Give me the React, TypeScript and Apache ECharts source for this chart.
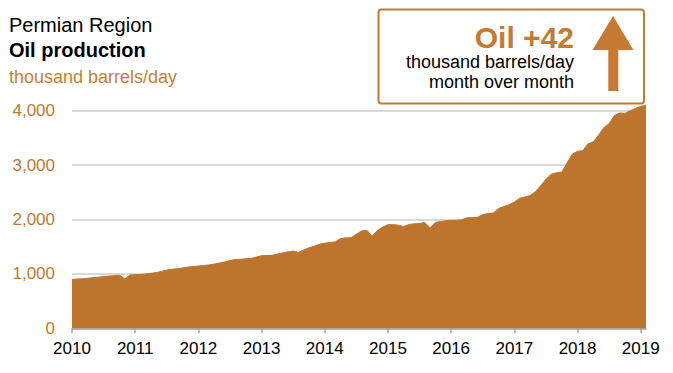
import React, { useEffect, useRef } from "react";
import * as echarts from "echarts";

// Permian Region oil production, thousand barrels/day, monthly (Jan..Dec)
const prod2010 = [900, 905, 910, 920, 930, 940, 950, 960, 968, 975, 910, 978];
const prod2011 = [985, 990, 1000, 1010, 1025, 1045, 1070, 1085, 1095, 1110, 1125, 1135];
const prod2012 = [1145, 1155, 1165, 1180, 1200, 1220, 1245, 1265, 1270, 1278, 1285, 1310];
const prod2013 = [1335, 1338, 1342, 1365, 1385, 1405, 1420, 1395, 1440, 1480, 1510, 1545];
const prod2014 = [1565, 1578, 1590, 1650, 1662, 1665, 1730, 1790, 1800, 1695, 1800, 1860];
const prod2015 = [1905, 1905, 1895, 1870, 1910, 1920, 1925, 1945, 1845, 1945, 1965, 1975];
const prod2016 = [1985, 1985, 1995, 2030, 2035, 2040, 2090, 2110, 2120, 2200, 2240, 2270];
const prod2017 = [2320, 2390, 2415, 2440, 2510, 2620, 2740, 2830, 2860, 2870, 3040, 3200];
const prod2018 = [3255, 3265, 3390, 3430, 3550, 3690, 3760, 3910, 3960, 3950, 4000, 4040];
const prod2019 = [4080, 4100];

const years = ["2010", "2011", "2012", "2013", "2014", "2015", "2016", "2017", "2018", "2019"];
const yTicks = [0, 1000, 2000, 3000, 4000];

const titleLines = ["Permian Region", "Oil production", "thousand barrels/day"];
const changeLabel = "Oil +42";
const changeUnitLines = ["thousand barrels/day", "month over month"];

const values = [
  ...prod2010, ...prod2011, ...prod2012, ...prod2013, ...prod2014,
  ...prod2015, ...prod2016, ...prod2017, ...prod2018, ...prod2019,
];

const categories: string[] = [];
for (let i = 0; i < values.length; i++) {
  const y = 2010 + Math.floor(i / 12);
  const m = (i % 12) + 1;
  categories.push(`${y}-${m < 10 ? "0" + m : m}`);
}

const AREA = "#BD742C";
const ORANGE = "#C47A33";
const FONT = "'Liberation Sans', Arial, sans-serif";

export default function App() {
  const ref = useRef<HTMLDivElement>(null);
  useEffect(() => {
    document.body.style.margin = "0";
    if (!ref.current) return;
    const chart = echarts.init(ref.current, null, { renderer: "svg" });
    chart.setOption({
      animation: false,
      backgroundColor: "#ffffff",
      textStyle: { fontFamily: FONT },
      grid: { left: 72, right: 27, top: 110.7, bottom: 44.7, containLabel: false },
      xAxis: {
        type: "category",
        data: categories,
        boundaryGap: false,
        axisLine: { show: true, lineStyle: { color: "#a6a6a6", width: 1.5 } },
        axisTick: {
          show: true,
          length: 5,
          interval: (idx: number) => idx % 12 === 0,
          lineStyle: { color: "#a6a6a6", width: 1.5 },
        },
        axisLabel: {
          interval: (idx: number) => idx % 12 === 0,
          formatter: (v: string) => {
            const y = v.slice(0, 4);
            return years.includes(y) ? y : "";
          },
          color: "#000000",
          fontSize: 17,
          fontFamily: FONT,
          margin: 12,
        },
        splitLine: { show: false },
      },
      yAxis: {
        type: "value",
        min: yTicks[0],
        max: yTicks[yTicks.length - 1],
        interval: 1000,
        axisLine: { show: false },
        axisTick: { show: false },
        axisLabel: {
          color: "#C0792F",
          fontSize: 17,
          fontFamily: FONT,
          margin: 17,
          formatter: (v: number) => v.toLocaleString("en-US"),
        },
        splitLine: { show: true, lineStyle: { color: "#cccccc", width: 1.5 } },
      },
      series: [
        {
          type: "line",
          data: values,
          showSymbol: false,
          clip: false,
          lineStyle: { color: AREA, width: 1 },
          itemStyle: { color: AREA },
          areaStyle: { color: AREA, opacity: 1 },
          z: 3,
        },
      ],
      graphic: [
        {
          type: "text",
          left: 9,
          top: 15,
          style: { text: titleLines[0], fontSize: 20, fontFamily: FONT, fill: "#000000" },
        },
        {
          type: "text",
          left: 9,
          top: 40,
          style: { text: titleLines[1], fontSize: 20, fontWeight: "bold", fontFamily: FONT, fill: "#000000" },
        },
        {
          type: "text",
          left: 9,
          top: 68,
          style: { text: titleLines[2], fontSize: 18, fontFamily: FONT, fill: "#C8812F" },
        },
        {
          type: "rect",
          shape: { x: 378.5, y: 9.5, width: 265.5, height: 94, r: 3 },
          style: { fill: "#ffffff", stroke: ORANGE, lineWidth: 2 },
          z: 10,
        },
        {
          type: "text",
          x: 574,
          y: 37.5,
          style: {
            text: changeLabel,
            fontSize: 30,
            fontWeight: "bold",
            fontFamily: FONT,
            fill: ORANGE,
            align: "right",
            verticalAlign: "middle",
          },
          z: 11,
        },
        {
          type: "text",
          x: 574,
          y: 62,
          style: {
            text: changeUnitLines[0],
            fontSize: 18,
            fontFamily: FONT,
            fill: "#000000",
            align: "right",
            verticalAlign: "middle",
          },
          z: 11,
        },
        {
          type: "text",
          x: 574,
          y: 82,
          style: {
            text: changeUnitLines[1],
            fontSize: 18,
            fontFamily: FONT,
            fill: "#000000",
            align: "right",
            verticalAlign: "middle",
          },
          z: 11,
        },
        {
          type: "polygon",
          shape: { points: [[613, 16], [633.5, 50], [592.5, 50]] },
          style: { fill: ORANGE },
          z: 11,
        },
        {
          type: "rect",
          shape: { x: 608.3, y: 49, width: 10, height: 42 },
          style: { fill: ORANGE },
          z: 11,
        },
      ],
    });
    return () => chart.dispose();
  }, []);
  return <div ref={ref} style={{ width: 673, height: 373 }} />;
}
